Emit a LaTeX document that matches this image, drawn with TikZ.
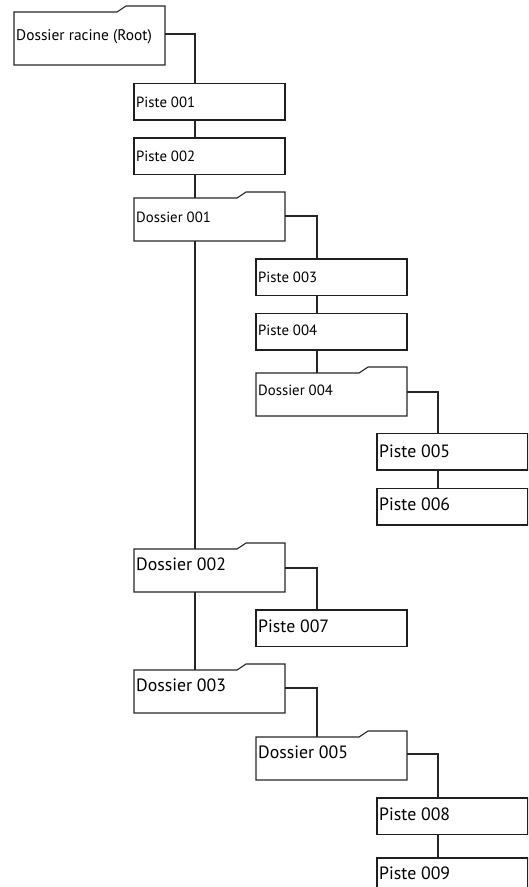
\documentclass[tikz,border=0pt]{standalone}
\usepackage{fontspec}
\setmainfont{PT Sans}
\newcommand\folderoutline[1]{\draw[folderline] (#1.north west) -- ([xshift=-48pt]#1.north east) -- ([xshift=-39pt,yshift=6pt]#1.north east) -- ([yshift=6pt]#1.north east) -- (#1.south east) -- (#1.south west) -- cycle;}
\begin{document}
\begin{tikzpicture}[x=1pt,y=-1pt,
 piste/.style={draw=black!88, line width=1.8pt, rectangle, minimum width=151pt, minimum height=36.5pt, inner sep=0pt, outer sep=0pt, anchor=north west},
 folder/.style={rectangle, minimum width=151pt, minimum height=43pt, inner sep=0pt, outer sep=0pt, anchor=north west},
 folderline/.style={draw=black!85, line width=1.1pt, line join=miter},
 conn/.style={draw=black!85, line width=1.5pt},
 small/.style={font=\fontsize{14.8}{16}\selectfont, anchor=base west, inner sep=0pt},
 large/.style={font=\fontsize{17.8}{20}\selectfont, anchor=base west, inner sep=0pt},
 rootlabel/.style={font=\fontsize{15.4}{18}\selectfont, anchor=base west, inner sep=0pt}]
\useasboundingbox (0,0) rectangle (528,887);
\clip (0,0) rectangle (528,887);
% folders (bodies)
\node[folder, minimum height=53pt] (root) at (14,12) {};
\node[folder] (d1) at (134,198) {};
\node[folder] (d4) at (256,373) {};
\node[folder] (d2) at (134,549) {};
\node[folder] (d3) at (134,670) {};
\node[folder] (d5) at (256,737) {};
\folderoutline{root}
\folderoutline{d1}
\folderoutline{d4}
\folderoutline{d2}
\folderoutline{d3}
\folderoutline{d5}
% pistes
\node[piste] (p1) at (134,83.5) {};
\node[piste] (p2) at (134,138) {};
\node[piste] (p3) at (256,259) {};
\node[piste] (p4) at (256,313.5) {};
\node[piste] (p5) at (377,433.5) {};
\node[piste] (p6) at (377,488.5) {};
\node[piste] (p7) at (256,610) {};
\node[piste] (p8) at (377,798) {};
\node[piste] (p9) at (377,858) {};
% labels
\node[rootlabel] (troot) at (16,40) {Dossier racine (Root)};
\node[small] (tp1) at (136,107) {Piste 001};
\node[small] (tp2) at (136,161) {Piste 002};
\node[small] (td1) at (136,222) {Dossier 001};
\node[small] (tp3) at (258,282) {Piste 003};
\node[small] (tp4) at (258,335) {Piste 004};
\node[small] (td4) at (258,395) {Dossier 004};
\node[large] (tp5) at (379,457) {Piste 005};
\node[large] (tp6) at (379,510) {Piste 006};
\node[large] (td2) at (136,570) {Dossier 002};
\node[large] (tp7) at (258,632) {Piste 007};
\node[large] (td3) at (136,691) {Dossier 003};
\node[large] (td5) at (258,758) {Dossier 005};
\node[large] (tp8) at (379,820) {Piste 008};
\node[large] (tp9) at (379,879) {Piste 009};
% connectors
\draw[conn] ([yshift=-22pt]root.north east) -| ([xshift=61pt]p1.north west);
\draw[conn] ([xshift=61pt]p1.south west) -- ([xshift=61pt]p2.north west);
\draw[conn] ([xshift=61pt]p2.south west) -- ([xshift=61pt]d1.north west);
\draw[conn] ([xshift=61pt]d1.south west) -- ([xshift=61pt]d2.north west);
\draw[conn] ([xshift=61pt]d2.south west) -- ([xshift=61pt]d3.north west);
\draw[conn] ([yshift=-18pt]d1.north east) -| ([xshift=61pt]p3.north west);
\draw[conn] ([xshift=61pt]p3.south west) -- ([xshift=61pt]p4.north west);
\draw[conn] ([xshift=61pt]p4.south west) -- ([xshift=61pt]d4.north west);
\draw[conn] ([yshift=-19pt]d4.north east) -| ([xshift=61pt]p5.north west);
\draw[conn] ([xshift=61pt]p5.south west) -- ([xshift=61pt]p6.north west);
\draw[conn] ([yshift=-19pt]d2.north east) -| ([xshift=61pt]p7.north west);
\draw[conn] ([yshift=-18pt]d3.north east) -| ([xshift=61pt]d5.north west);
\draw[conn] ([yshift=-17pt]d5.north east) -| ([xshift=61pt]p8.north west);
\draw[conn] ([xshift=61pt]p8.south west) -- ([xshift=61pt]p9.north west);
\end{tikzpicture}
\end{document}
